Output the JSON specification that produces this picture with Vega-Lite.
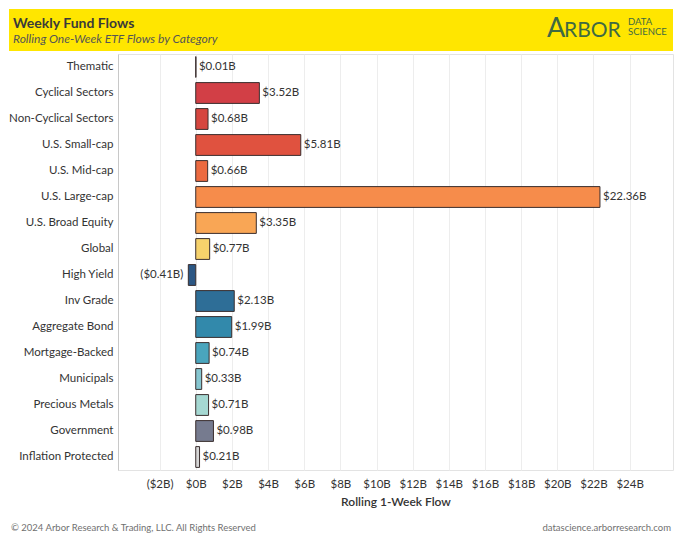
{
  "$schema": "https://vega.github.io/schema/vega-lite/v6.json",
  "padding": {"left": 8, "top": 9, "right": 8, "bottom": 0},
  "background": "white",
  "width": 555,
  "height": 416,
  "view": {"stroke": "#e3e3e3"},
  "config": {
    "font": "Lato",
    "locale": {"number": {"decimal": ".", "thousands": ",", "grouping": [3], "currency": ["$", "B"]}}
  },
  "layer": [
    {
      "data": {"values": [{"band": "header"}]},
      "mark": {"type": "rect", "color": "#FFE600", "clip": false},
      "encoding": {"x": {"value": -109}, "x2": {"value": 555}, "y": {"value": -45}, "y2": {"value": -3}}
    },
    {"data": {"values": [{"t": "Weekly Fund Flows"}]}, "mark": {"type": "text", "align": "left", "baseline": "alphabetic", "fontSize": 14, "fontWeight": "bold", "color": "#3a3a3a"}, "encoding": {"text": {"field": "t"}, "x": {"value": -105}, "y": {"value": -26}}},
    {"data": {"values": [{"t": "Rolling One-Week ETF Flows by Category"}]}, "mark": {"type": "text", "align": "left", "baseline": "alphabetic", "fontSize": 12, "fontStyle": "italic", "color": "#555555"}, "encoding": {"text": {"field": "t"}, "x": {"value": -105}, "y": {"value": -11}}},
    {"data": {"values": [{"t": "A"}]}, "mark": {"type": "text", "align": "left", "baseline": "alphabetic", "fontSize": 27, "color": "#3f6a42"}, "encoding": {"text": {"field": "t"}, "x": {"value": 429}, "y": {"value": -17}}},
    {"data": {"values": [{"t": "RBOR"}]}, "mark": {"type": "text", "align": "left", "baseline": "alphabetic", "fontSize": 21, "color": "#3f6a42"}, "encoding": {"text": {"field": "t"}, "x": {"value": 446}, "y": {"value": -17}}},
    {"data": {"values": [{"t": "DATA"}]}, "mark": {"type": "text", "align": "left", "baseline": "alphabetic", "fontSize": 9.5, "color": "#3f6a42"}, "encoding": {"text": {"field": "t"}, "x": {"value": 510}, "y": {"value": -29}}},
    {"data": {"values": [{"t": "SCIENCE"}]}, "mark": {"type": "text", "align": "left", "baseline": "alphabetic", "fontSize": 9.5, "color": "#3f6a42"}, "encoding": {"text": {"field": "t"}, "x": {"value": 510}, "y": {"value": -19}}},
    {"data": {"values": [{"t": "© 2024 Arbor Research & Trading, LLC. All Rights Reserved"}]}, "mark": {"type": "text", "align": "left", "baseline": "alphabetic", "fontSize": 9.5, "color": "#707070"}, "encoding": {"text": {"field": "t"}, "x": {"value": -107}, "y": {"value": 477}}},
    {"data": {"values": [{"t": "datascience.arborresearch.com"}]}, "mark": {"type": "text", "align": "right", "baseline": "alphabetic", "fontSize": 9.5, "color": "#707070"}, "encoding": {"text": {"field": "t"}, "x": {"value": 553}, "y": {"value": 477}}},
    {
      "data": {"name": "flows", "values": [
        {"category": "Thematic", "flow": 0.01},
        {"category": "Cyclical Sectors", "flow": 3.52},
        {"category": "Non-Cyclical Sectors", "flow": 0.68},
        {"category": "U.S. Small-cap", "flow": 5.81},
        {"category": "U.S. Mid-cap", "flow": 0.66},
        {"category": "U.S. Large-cap", "flow": 22.36},
        {"category": "U.S. Broad Equity", "flow": 3.35},
        {"category": "Global", "flow": 0.77},
        {"category": "High Yield", "flow": -0.41},
        {"category": "Inv Grade", "flow": 2.13},
        {"category": "Aggregate Bond", "flow": 1.99},
        {"category": "Mortgage-Backed", "flow": 0.74},
        {"category": "Municipals", "flow": 0.33},
        {"category": "Precious Metals", "flow": 0.71},
        {"category": "Government", "flow": 0.98},
        {"category": "Inflation Protected", "flow": 0.21}
      ]},
      "encoding": {
        "y": {"field": "category", "type": "nominal", "sort": null,
          "scale": {"paddingInner": 0.2, "paddingOuter": 0.1},
          "axis": {"title": null, "ticks": false, "labelPadding": 5, "labelFontSize": 11.5, "labelColor": "#333333", "domainColor": "#c8c8c8", "labelLimit": 200}},
        "x": {"field": "flow", "type": "quantitative",
          "scale": {"domain": [-4.3, 26.4], "nice": false, "zero": false},
          "axis": {"values": [-2, 0, 2, 4, 6, 8, 10, 12, 14, 16, 18, 20, 22, 24], "format": "($.0f", "title": "Rolling 1-Week Flow", "grid": true, "gridColor": "#ededed", "ticks": false, "domain": false, "labelPadding": 8, "labelFontSize": 11.5, "labelColor": "#333333", "titleFontSize": 12, "titleFontWeight": 600, "titleColor": "#333333", "titlePadding": 7}}
      },
      "layer": [
        {
          "mark": {"type": "bar", "stroke": "#3a2e2e", "strokeWidth": 1},
          "encoding": {
            "x2": {"datum": 0},
            "color": {"field": "category", "type": "nominal", "legend": null,
              "scale": {
                "domain": ["Thematic", "Cyclical Sectors", "Non-Cyclical Sectors", "U.S. Small-cap", "U.S. Mid-cap", "U.S. Large-cap", "U.S. Broad Equity", "Global", "High Yield", "Inv Grade", "Aggregate Bond", "Mortgage-Backed", "Municipals", "Precious Metals", "Government", "Inflation Protected"],
                "range": ["#2b2b2b", "#d23f46", "#d6463f", "#e0523f", "#ec6a40", "#f68c4b", "#f9a655", "#f6d26c", "#2c5784", "#2e6e97", "#3289ab", "#4aa5bd", "#86c6d0", "#a5d8d2", "#767b8f", "#d6d6d6"]
              }}
          }
        },
        {
          "transform": [{"filter": "datum.flow >= 0"}],
          "mark": {"type": "text", "align": "left", "baseline": "middle", "dx": 3, "fontSize": 11.5, "color": "#333333"},
          "encoding": {"text": {"field": "flow", "type": "quantitative", "format": "($.2f"}}
        },
        {
          "transform": [{"filter": "datum.flow < 0"}],
          "mark": {"type": "text", "align": "right", "baseline": "middle", "dx": -5, "fontSize": 11.5, "color": "#333333"},
          "encoding": {"text": {"field": "flow", "type": "quantitative", "format": "($.2f"}}
        }
      ]
    }
  ]
}
